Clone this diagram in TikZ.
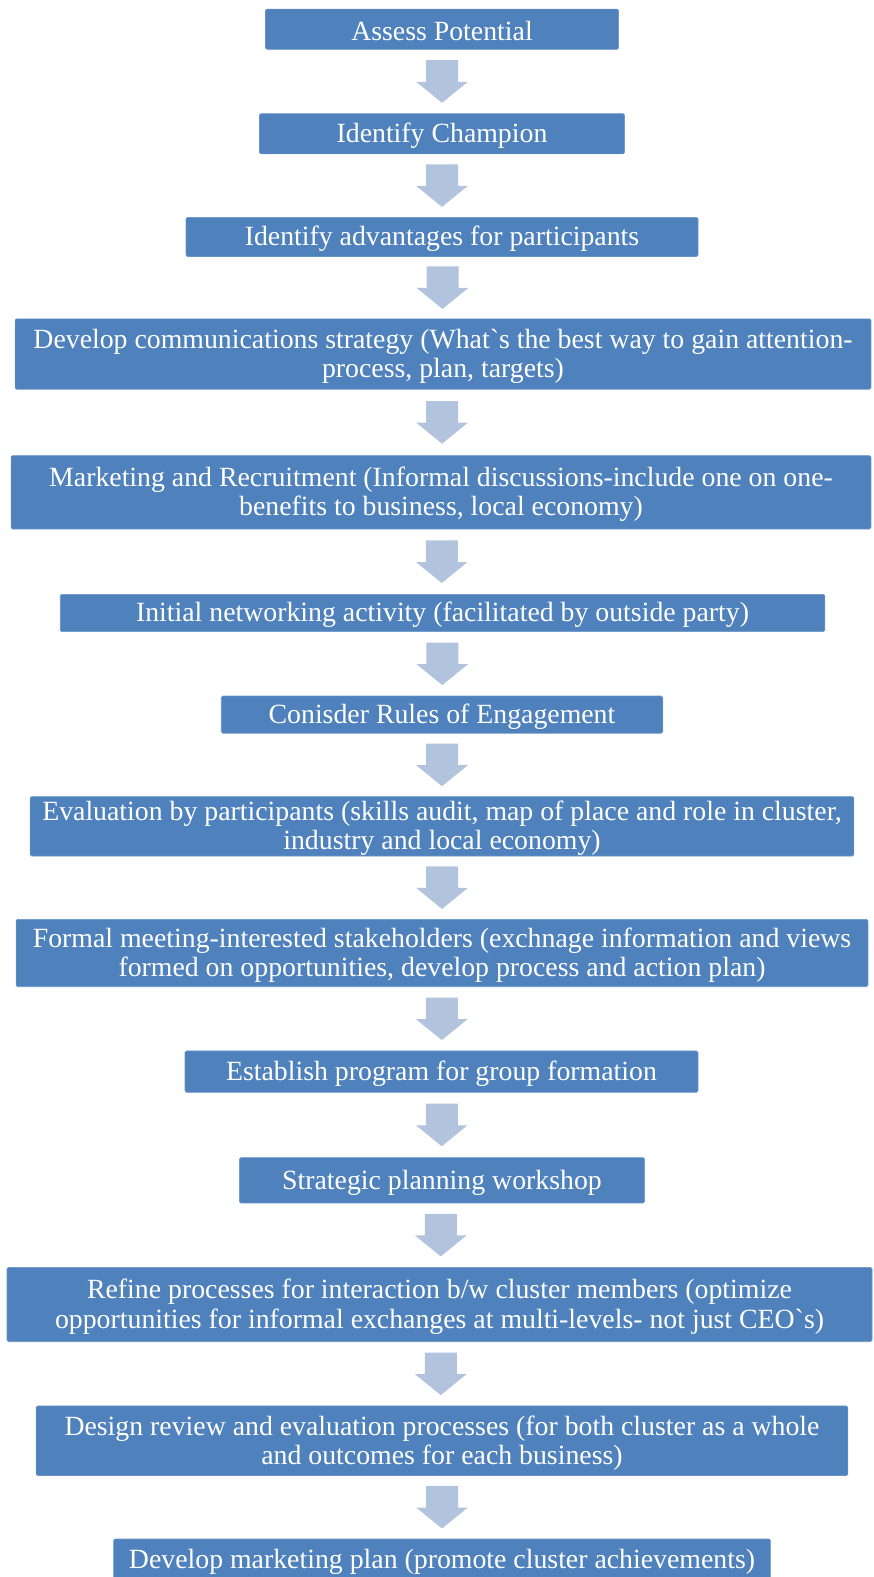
\documentclass[tikz,border=0pt]{standalone}
\usepackage{fontspec}
\setmainfont{Liberation Serif}
\usetikzlibrary{calc}
\definecolor{boxblue}{HTML}{4F81BD}
\definecolor{arrowblue}{HTML}{B2C3DE}
\tikzset{
  stepbox/.style={rectangle, rounded corners=1.5pt, fill=boxblue, draw=boxblue!85!white,
    line width=0.6pt, inner sep=0pt},
  steptext/.style={text=white, align=center, inner sep=0pt, yshift=-2.2pt,
    font=\fontsize{27.8}{29.2}\selectfont},
}
% one step of the flow: a filled box with its caption set centred on it
\newcommand\stepnode[6]{%
  \node[stepbox, minimum width=#4, minimum height=#5,
        label={[steptext]center:{#6}}] (#1) at (#2,#3) {};}
% block arrow between two boxes, centred in the gap
\newcommand\joinarrow[2]{%
  \path ($(#1.south)!0.5!(#2.north)$) coordinate (m-#1-#2);
  \fill[arrowblue] (m-#1-#2) ++(-16,-21.3) -- ++(32,0) -- ++(0,21.6) -- ++(9.8,0)
    -- ++(-25.8,21) -- ++(-25.8,-21) -- ++(9.8,0) -- cycle;}
\begin{document}
\begin{tikzpicture}[x=1pt,y=-1pt]
\useasboundingbox (0,0) rectangle (873,1577);
\stepnode{b1}{442}{29.2}{353.1}{40.3}{Assess Potential}
\stepnode{b2}{442}{133.8}{365.1}{40.2}{Identify Champion}
\stepnode{b3}{442}{236.9}{512}{39.2}{Identify advantages for participants}
\stepnode{b4}{443}{354}{855.9}{70.4}{Develop communications strategy (What\textasciigrave s the best way to gain attention-\\process, plan, targets)}
\stepnode{b5}{441}{492.3}{859.9}{73.4}{Marketing and Recruitment (Informal discussions-include one on one-\\benefits to business, local economy)}
\stepnode{b6}{442.5}{613}{764.5}{37.2}{Initial networking activity (facilitated by outside party)}
\stepnode{b7}{442}{714.6}{441.5}{37.2}{Conisder Rules of Engagement}
\stepnode{b8}{442}{826.3}{823.8}{59.4}{Evaluation by participants (skills audit, map of place and role in cluster,\\industry and local economy)}
\stepnode{b9}{442}{953}{851.9}{67.4}{Formal meeting-interested stakeholders (exchnage information and views\\formed on opportunities, develop process and action plan)}
\stepnode{b10}{441.5}{1071.6}{513}{41.3}{Establish program for group formation}
\stepnode{b11}{442}{1180.3}{405.3}{45.3}{Strategic planning workshop}
\stepnode{b12}{439.5}{1304.5}{865}{74.4}{Refine processes for interaction b/w cluster members (optimize\\opportunities for informal exchanges at multi-levels- not just CEO\textasciigrave s)}
\stepnode{b13}{442}{1440.7}{811.7}{69.5}{Design review and evaluation processes (for both cluster as a whole\\and outcomes for each business)}
\stepnode{b14}{442}{1559.3}{656.7}{40.6}{Develop marketing plan (promote cluster achievements)}
\joinarrow{b1}{b2}
\joinarrow{b2}{b3}
\joinarrow{b3}{b4}
\joinarrow{b4}{b5}
\joinarrow{b5}{b6}
\joinarrow{b6}{b7}
\joinarrow{b7}{b8}
\joinarrow{b8}{b9}
\joinarrow{b9}{b10}
\joinarrow{b10}{b11}
\joinarrow{b11}{b12}
\joinarrow{b12}{b13}
\joinarrow{b13}{b14}
\end{tikzpicture}
\end{document}
